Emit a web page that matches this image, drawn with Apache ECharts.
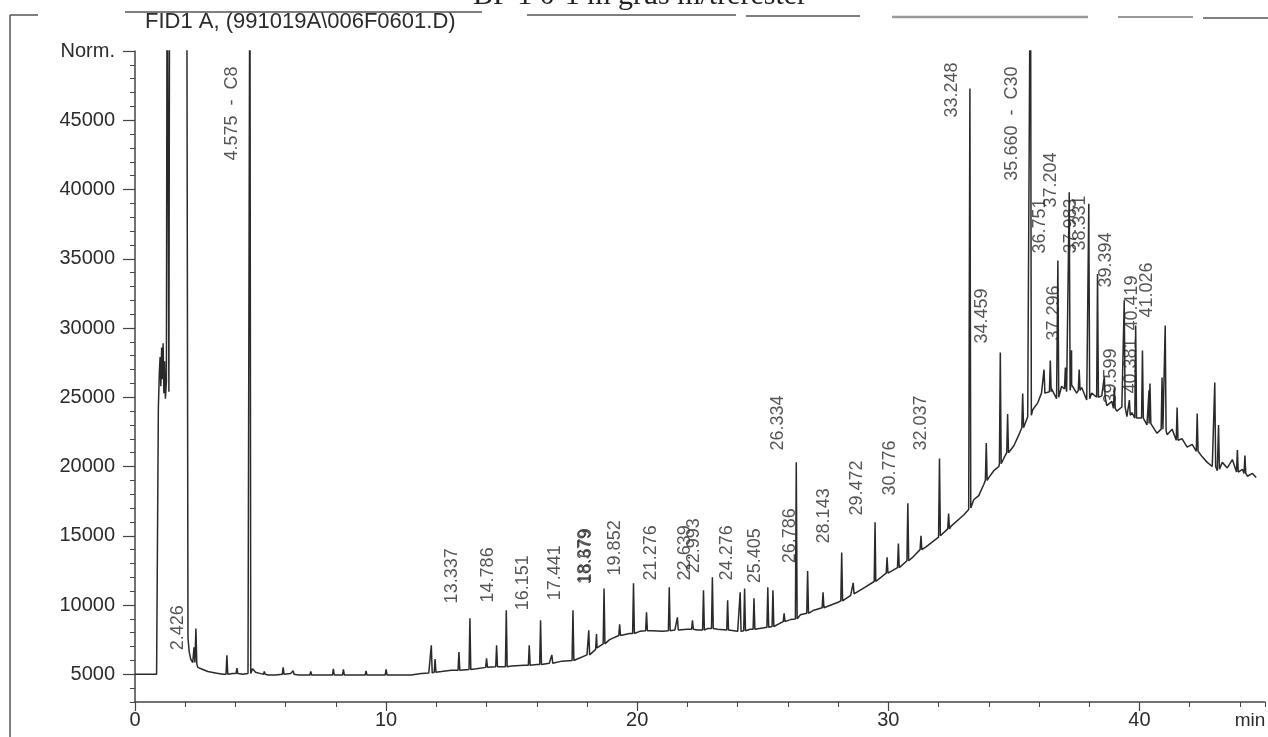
<!DOCTYPE html>
<html>
<head>
<meta charset="utf-8">
<script src="https://cdn.jsdelivr.net/npm/echarts@6/dist/echarts.min.js"></script>
<style>
html,body{margin:0;padding:0;background:#fff}
#chart{width:1268px;height:737px}
</style>
</head>
<body>
<div id="chart"></div>
<script>
// baseline of the trace (min, counts)
var baseT = [0, 0.5, 0.86, 0.9, 0.93, 0.97, 1.0, 1.03, 1.06, 1.09, 1.12, 1.15, 1.18, 1.21, 1.25, 1.28, 1.33, 1.35, 1.38, 2.06,
  2.11, 2.16, 2.22, 2.3, 2.5, 2.7, 2.9, 3.2, 3.5, 3.9, 4.3, 4.5, 4.68, 4.8, 5.0, 5.3, 5.6, 5.9, 6.2, 6.5,
  6.8, 7.1, 7.4, 7.7, 8.0, 8.6, 9.0, 9.4, 9.8, 10.2, 10.6, 11.0, 11.4, 11.7, 12.2, 12.6, 13.0, 13.6, 14.0, 14.5,
  15.0, 15.5, 16.0, 16.5, 17.0, 17.5, 18.0, 18.4, 18.9, 19.3, 19.7, 20.1, 20.6, 21.0, 21.5, 22.0, 22.4, 22.8, 23.2, 23.7,
  24.0, 24.5, 25.0, 25.4, 25.7, 26.1, 26.5, 27.0, 27.5, 28.0, 28.5, 29.0, 29.5, 30.0, 30.5, 31.0, 31.5, 32.0, 32.5, 33.0,
  33.2, 33.4, 33.6, 33.8, 34.0, 34.2, 34.4, 34.6, 34.8, 35.0, 35.2, 35.4, 35.55, 35.75, 35.95, 36.1, 36.3, 36.5, 36.7, 36.9,
  37.1, 37.3, 37.5, 37.7, 37.9, 38.1, 38.3, 38.5, 38.7, 38.9, 39.1, 39.3, 39.5, 39.7, 39.9, 40.1, 40.3, 40.5, 40.7, 40.9,
  41.1, 41.3, 41.5, 41.7, 41.9, 42.1, 42.3, 42.5, 42.7, 42.9, 43.1, 43.3, 43.5, 43.7, 43.9, 44.1, 44.3, 44.5, 44.65];
var baseV = [5000, 5000, 5000, 5050, 24200, 26800, 27900, 25800, 28600, 26300, 28900, 25300, 27600, 24900, 26100, 60000, 60000, 25400, 60000, 60000,
  7600, 6600, 6100, 5850, 5500, 5350, 5200, 5100, 5000, 5050, 5000, 5050, 5400, 5150, 5050, 4950, 4950, 5000, 5050, 4950,
  4950, 5000, 4950, 4950, 5000, 4950, 4950, 4950, 4950, 4950, 4950, 4950, 5050, 5100, 5200, 5300, 5350, 5400, 5500, 5550,
  5600, 5650, 5700, 5800, 5950, 6100, 6400, 6900, 7500, 7800, 7950, 8100, 8150, 8100, 8200, 8250, 8200, 8300, 8250, 8150,
  8100, 8250, 8350, 8450, 8700, 8950, 9300, 9600, 9900, 10200, 10700, 11200, 11700, 12300, 12800, 13500, 14200, 14900, 15700, 16500,
  16900, 17600, 17900, 18700, 19200, 19700, 20000, 20600, 21000, 21500, 22300, 22900, 23600, 24100, 24600, 25300, 25200, 25600, 24900, 25800,
  25400, 25900, 25300, 25700, 24800, 25300, 24900, 25100, 24400, 24700, 24000, 24300, 23600, 23900, 23400, 23600, 23000, 23200, 22400, 22700,
  22300, 22700, 21800, 22000, 21400, 21600, 21100, 20700, 20300, 20000, 19700, 20300, 19900, 20500, 19600, 19800, 19300, 19500, 19200];

// peaks: retention time, foot level, apex level
var peakT = [2.35, 2.426, 3.66, 4.06, 4.575, 5.15, 5.9, 6.3, 7.0, 7.9, 8.3, 9.2, 10.0, 11.8, 11.95, 12.9, 13.337, 14.0, 14.4, 14.786,
  15.7, 16.151, 16.6, 17.441, 18.07, 18.379, 18.679, 19.3, 19.852, 20.37, 21.276, 21.6, 22.2, 22.639, 22.993, 23.6, 24.1, 24.276, 24.65, 25.2,
  25.405, 25.85, 26.334, 26.786, 27.4, 28.143, 28.6, 29.472, 29.95, 30.4, 30.776, 31.3, 32.037, 32.4, 33.248, 33.9, 34.459, 34.75, 35.35, 35.66,
  36.2, 36.45, 36.751, 37.05, 37.204, 37.296, 37.6, 37.983, 38.331, 38.6, 39.0, 39.394, 39.599, 39.85, 40.12, 40.381, 40.419, 40.9, 41.026, 41.5,
  42.3, 43.0, 43.15, 43.9, 44.2];
var peakFoot = [5850, 5750, 5000, 5050, 5050, 5000, 5000, 5000, 4950, 4950, 4950, 4950, 4950, 5100, 5150, 5300, 5350, 5500, 5550, 5550,
  5650, 5700, 5800, 6000, 6400, 6800, 7200, 7800, 7950, 8150, 8150, 8200, 8250, 8200, 8300, 8200, 8100, 8150, 8250, 8400,
  8450, 8800, 9000, 9400, 9800, 10300, 10800, 11700, 12300, 12700, 13200, 14000, 15000, 15500, 17000, 19000, 20200, 21000, 22800, 23700,
  25300, 25400, 25000, 25600, 25500, 25800, 25500, 24900, 25000, 25000, 24200, 24300, 23700, 23500, 23500, 23000, 23100, 22700, 22600, 21900,
  21100, 20000, 19800, 19600, 19500];
var peakTop = [6950, 8300, 6370, 5450, 60000, 5200, 5500, 5250, 5200, 5400, 5350, 5250, 5350, 7100, 6100, 6600, 9040, 6150, 7100, 9620,
  7100, 8900, 6400, 9620, 8170, 7900, 11200, 8600, 11570, 9470, 11280, 9110, 8900, 11060, 12000, 10340, 10920, 11200, 10480, 11280,
  11060, 9400, 20300, 12450, 10920, 13800, 11600, 15970, 13440, 14450, 17340, 15000, 20580, 16600, 47300, 21700, 28230, 23800, 25270, 60000,
  27000, 27650, 34870, 27150, 39800, 28400, 27000, 38980, 33900, 26500, 25700, 32000, 24800, 30180, 28380, 25500, 26000, 26430, 30180, 24260,
  23830, 26070, 23000, 21200, 20800];

// printed peak labels: position (min), level at the foot of the text, text
var labelT = [2.426, 4.575, 13.337, 14.786, 16.151, 17.441, 18.65, 18.679, 19.852, 21.276, 22.639, 22.993, 24.276, 25.405, 26.334, 26.786,
  28.143, 29.472, 30.776, 32.037, 33.248, 34.459, 35.66, 36.751, 37.204, 37.296, 37.983, 38.331, 39.394, 39.599, 40.381, 40.419, 41.026];
var labelV = [6730, 42090, 10120, 10190, 9620, 10340, 11500, 11570, 12140, 11780, 11780, 12290, 11780, 11570, 21160, 13010,
  14450, 16470, 17910, 21160, 45190, 28880, 40640, 35380, 38700, 29100, 35380, 35600, 32920, 24550, 25270, 29820, 30760];
var labelText = ['2.426', '4.575  -  C8', '13.337', '14.786', '16.151', '17.441', '18.379', '18.679', '19.852', '21.276', '22.639', '22.993',
  '24.276', '25.405', '26.334', '26.786', '28.143', '29.472', '30.776', '32.037', '33.248', '34.459', '35.660  -  C30', '36.751', '37.204',
  '37.296', '37.983', '38.331', '39.394', '39.599', '40.381', '40.419', '41.026'];

var yTicks = [5000, 10000, 15000, 20000, 25000, 30000, 35000, 40000, 45000, 50000];
var xTicks = [0, 10, 20, 30, 40];

var chart = echarts.init(document.getElementById('chart'));

// trace = baseline + narrow spikes
var trace = [];
for (var i = 0; i < baseT.length; i++) {
  trace.push([baseT[i], baseV[i]]);
}
for (var j = 0; j < peakT.length; j++) {
  trace.push([peakT[j] - 0.035, peakFoot[j]]);
  trace.push([peakT[j], peakTop[j]]);
  trace.push([peakT[j] + 0.035, peakFoot[j]]);
}
trace.sort(function(a, b) { return a[0] - b[0]; });

var labels = [];
for (var k = 0; k < labelT.length; k++) {
  labels.push({ name: labelText[k], value: [labelT[k], labelV[k]] });
}

var axisColor = '#444';
var textColor = '#2b2b2b';
var sans = '"Liberation Sans", Arial, sans-serif';

var option = {
  animation: false,
  backgroundColor: '#fff',
  grid: { left: 135, right: 3, top: 51, bottom: 35 },
  xAxis: [{
    type: 'value', min: 0, max: 45, interval: 2,
    axisLine: { show: true, lineStyle: { color: axisColor, width: 1.5 } },
    axisTick: { show: true, length: 5, lineStyle: { color: axisColor } },
    axisLabel: { show: false },
    splitLine: { show: false }
  }, {
    type: 'value', min: 0, max: 45, position: 'bottom',
    axisLine: { show: false },
    axisTick: { show: true, length: 9, customValues: xTicks, lineStyle: { color: axisColor, width: 1.2 } },
    axisLabel: { show: true, customValues: xTicks, fontSize: 20, fontFamily: sans, color: textColor, margin: 8 },
    splitLine: { show: false }
  }],
  yAxis: [{
    type: 'value', min: 3000, max: 50000, interval: 1000,
    axisLine: { show: true, lineStyle: { color: axisColor, width: 1.5 } },
    axisTick: { show: true, length: 5, lineStyle: { color: axisColor } },
    axisLabel: { show: false },
    splitLine: { show: false }
  }, {
    type: 'value', min: 3000, max: 50000, position: 'left',
    axisLine: { show: false },
    axisTick: { show: true, length: 12, customValues: yTicks, lineStyle: { color: axisColor, width: 1.2 } },
    axisLabel: {
      show: true, customValues: yTicks, fontSize: 20, fontFamily: sans, color: textColor, margin: 20,
      formatter: function(v) { return v === 50000 ? 'Norm.' : String(v); }
    },
    splitLine: { show: false }
  }],
  series: [{
    type: 'line',
    data: trace,
    showSymbol: false,
    symbol: 'none',
    clip: true,
    lineStyle: { color: '#2a2a2a', width: 1.5 }
  }, {
    type: 'scatter',
    data: labels,
    symbolSize: 0,
    itemStyle: { color: 'transparent' },
    label: {
      show: true, formatter: '{b}', rotate: 90,
      position: [-18, 0], align: 'left', verticalAlign: 'middle',
      fontSize: 18, fontFamily: sans, color: textColor
    }
  }],
  graphic: [
    { type: 'text', x: 640, y: 11, style: { text: 'BF 1 0-1 m grus m/trerester', font: '30px "Liberation Serif", serif', fill: '#222', textAlign: 'center', textVerticalAlign: 'bottom' } },
    { type: 'text', x: 145, y: 22, style: { text: 'FID1 A, (991019A\\006F0601.D)', font: '22px ' + sans, fill: textColor, textVerticalAlign: 'middle' } },
    { type: 'text', x: 1250, y: 721, style: { text: 'min', font: '19px ' + sans, fill: textColor, textAlign: 'center', textVerticalAlign: 'middle' } },
    { type: 'line', shape: { x1: 10, y1: 15, x2: 10, y2: 737 }, style: { stroke: '#555', lineWidth: 1.5 } },
    { type: 'line', shape: { x1: 10, y1: 15, x2: 38, y2: 15 }, style: { stroke: '#555', lineWidth: 1.5 } },
    { type: 'line', shape: { x1: 125, y1: 12, x2: 482, y2: 12 }, style: { stroke: '#555', lineWidth: 1.5 } },
    { type: 'line', shape: { x1: 527, y1: 15, x2: 736, y2: 15 }, style: { stroke: '#555', lineWidth: 1.5 } },
    { type: 'line', shape: { x1: 746, y1: 16, x2: 860, y2: 16 }, style: { stroke: '#555', lineWidth: 1.5 } },
    { type: 'line', shape: { x1: 892, y1: 17, x2: 1088, y2: 17 }, style: { stroke: '#999', lineWidth: 2.5 } },
    { type: 'line', shape: { x1: 1118, y1: 17, x2: 1193, y2: 17 }, style: { stroke: '#777', lineWidth: 1.5 } },
    { type: 'line', shape: { x1: 1203, y1: 18, x2: 1268, y2: 18 }, style: { stroke: '#555', lineWidth: 1.5 } }
  ]
};

chart.setOption(option);
</script>
</body>
</html>
